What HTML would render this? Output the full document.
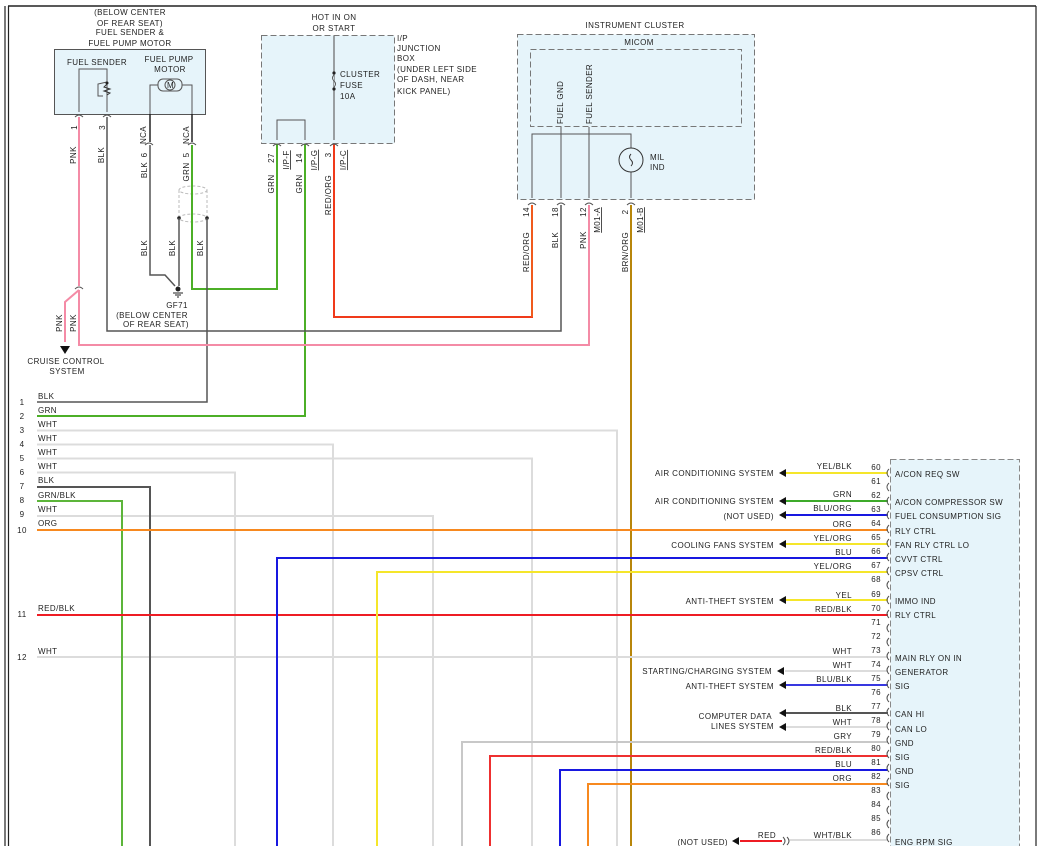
<!DOCTYPE html>
<html><head><meta charset="utf-8"><style>
html,body{margin:0;padding:0;background:#fff;}
svg{display:block;}
text{font-family:"Liberation Sans",sans-serif;font-size:8px;fill:#222;letter-spacing:0.4px;}
</style></head><body>
<svg width="1042" height="846" viewBox="0 0 1042 846" xmlns="http://www.w3.org/2000/svg">
<!-- borders -->
<line x1="8" y1="6" x2="1036" y2="6" stroke="#222" stroke-width="1.5"/>
<line x1="5" y1="6" x2="5" y2="846" stroke="#222" stroke-width="1.2"/>
<line x1="8.5" y1="6" x2="8.5" y2="846" stroke="#222" stroke-width="1.2"/>
<line x1="1036" y1="6" x2="1036" y2="846" stroke="#222" stroke-width="1.2"/>

<!-- Fuel sender box -->
<text x="130" y="15" text-anchor="middle">(BELOW CENTER</text>
<text x="130" y="26" text-anchor="middle">OF REAR SEAT)</text>
<text x="130" y="35" text-anchor="middle">FUEL SENDER &amp;</text>
<text x="130" y="46" text-anchor="middle">FUEL PUMP MOTOR</text>
<rect x="54.5" y="49.5" width="151" height="65" fill="#e6f4fa" stroke="#555"/>
<text x="97" y="65" text-anchor="middle">FUEL SENDER</text>
<text x="169" y="62" text-anchor="middle">FUEL PUMP</text>
<text x="170" y="72" text-anchor="middle">MOTOR</text>
<polyline points="79,112 79,69 107,69 107,112" fill="none" stroke="#555"/>
<polyline points="107,82 98,84 98,96 103,96" fill="none" stroke="#555"/>
<circle cx="107" cy="83" r="1.5" fill="#222"/>
<polyline points="107,84 104,87 110,89 104,91 110,93 107,95" fill="none" stroke="#333"/>
<rect x="158" y="79" width="24" height="12" rx="5" fill="#e6f4fa" stroke="#555"/>
<circle cx="170" cy="85" r="5" fill="#e6f4fa" stroke="#555"/>
<text x="167" y="88" font-size="6">M</text>
<polyline points="158,85 150,85 150,114" fill="none" stroke="#555"/>
<polyline points="182,85 192,85 192,114" fill="none" stroke="#555"/>
<g fill="none" stroke="#555">
<path d="M75,117 q4,-4 8,0 M103,117 q4,-4 8,0 M145,145 q4,-4 8,0 M188,145 q4,-4 8,0"/>
</g>
<line x1="150" y1="114" x2="150" y2="142" stroke="#222" stroke-width="1.5"/>
<line x1="192" y1="114" x2="192" y2="142" stroke="#222" stroke-width="1.5"/>
<g font-size="7.5">
<text transform="translate(77,125) rotate(-90)" text-anchor="end">1</text>
<text transform="translate(105,125) rotate(-90)" text-anchor="end">3</text>
<text transform="translate(146,135) rotate(-90)" text-anchor="middle">NCA</text>
<text transform="translate(189,135) rotate(-90)" text-anchor="middle">NCA</text>
<text transform="translate(147,155) rotate(-90)" text-anchor="middle">6</text>
<text transform="translate(189,155) rotate(-90)" text-anchor="middle">5</text>
<text transform="translate(76,155) rotate(-90)" text-anchor="middle">PNK</text>
<text transform="translate(104,155) rotate(-90)" text-anchor="middle">BLK</text>
<text transform="translate(147,170) rotate(-90)" text-anchor="middle">BLK</text>
<text transform="translate(189,172) rotate(-90)" text-anchor="middle">GRN</text>
<text transform="translate(147,248) rotate(-90)" text-anchor="middle">BLK</text>
<text transform="translate(175,248) rotate(-90)" text-anchor="middle">BLK</text>
<text transform="translate(203,248) rotate(-90)" text-anchor="middle">BLK</text>
<text transform="translate(62,323) rotate(-90)" text-anchor="middle">PNK</text>
<text transform="translate(76,323) rotate(-90)" text-anchor="middle">PNK</text>
</g>
<!-- shield -->
<ellipse cx="193" cy="190" rx="14" ry="4" fill="none" stroke="#bbb" stroke-dasharray="3,2"/>
<ellipse cx="193" cy="218" rx="14" ry="4" fill="none" stroke="#bbb" stroke-dasharray="3,2"/>
<line x1="179" y1="190" x2="179" y2="218" stroke="#bbb" stroke-dasharray="3,2"/>
<line x1="207" y1="190" x2="207" y2="218" stroke="#bbb" stroke-dasharray="3,2"/>
<circle cx="179" cy="218" r="1.8" fill="#222"/><circle cx="207" cy="218" r="1.8" fill="#222"/>
<!-- ground wires -->
<polyline points="150,145 150,275 165,275 175,286" fill="none" stroke="#555" stroke-width="1.5"/>
<line x1="179" y1="218" x2="179" y2="286" stroke="#555" stroke-width="1.5"/>
<circle cx="178" cy="289" r="2.5" fill="#222"/>
<path d="M173,293 h10 M175,295 h6 M177,297 h2" stroke="#222"/>
<text x="177" y="308" text-anchor="middle">GF71</text>
<text x="152" y="318" text-anchor="middle">(BELOW CENTER</text>
<text x="156" y="327" text-anchor="middle">OF REAR SEAT)</text>
<!-- wires -->
<polyline points="192,145 192,289 277,289 277,142" fill="none" stroke="#4caf27" stroke-width="2"/>
<polyline points="207,218 207,402 37,402" fill="none" stroke="#555" stroke-width="1.5"/>
<polyline points="305,142 305,416 37,416" fill="none" stroke="#4caf27" stroke-width="2"/>
<polyline points="107,117 107,331 561,331 561,205" fill="none" stroke="#555" stroke-width="1.5"/>
<polyline points="79,117 79,286" fill="none" stroke="#f48ba6" stroke-width="2"/>
<path d="M75,289 q4,-4 8,0" fill="none" stroke="#555"/>
<polyline points="79,290 65,302 65,342" fill="none" stroke="#f48ba6" stroke-width="2"/>
<polyline points="79,290 79,345 589,345 589,205" fill="none" stroke="#f48ba6" stroke-width="2"/>
<polygon points="60,346 70,346 65,354" fill="#111"/>
<text x="66" y="364" text-anchor="middle">CRUISE CONTROL</text>
<text x="67" y="374" text-anchor="middle">SYSTEM</text>
<polyline points="334,142 334,317 532,317 532,205" fill="none" stroke="#f03a1a" stroke-width="2"/>
<line x1="532" y1="205" x2="532" y2="317" stroke="#f07a20" stroke-width="1"/>

<!-- I/P junction box -->
<text x="334" y="20" text-anchor="middle">HOT IN ON</text>
<text x="334" y="31" text-anchor="middle">OR START</text>
<rect x="261.5" y="35.5" width="133" height="108" fill="#e6f4fa" stroke="#777" stroke-dasharray="6,3"/>
<text x="397" y="41">I/P</text><text x="397" y="51">JUNCTION</text><text x="397" y="61">BOX</text>
<text x="397" y="72">(UNDER LEFT SIDE</text><text x="397" y="82">OF DASH, NEAR</text><text x="397" y="94">KICK PANEL)</text>
<line x1="334" y1="36" x2="334" y2="140" stroke="#666" stroke-width="1.2"/>
<circle cx="334" cy="73" r="1.6" fill="#222"/><circle cx="334" cy="89" r="1.6" fill="#222"/>
<path d="M334,75 q-3,3 0,6 q3,3 0,6" fill="#e6f4fa" stroke="#555"/>
<text x="340" y="77">CLUSTER</text><text x="340" y="88">FUSE</text><text x="340" y="99">10A</text>
<polyline points="277,140 277,120 305,120 305,140" fill="none" stroke="#555"/>
<path d="M273,146 q4,-4 8,0 M301,146 q4,-4 8,0 M330,146 q4,-4 8,0" fill="none" stroke="#555"/>
<g font-size="7.5">
<text transform="translate(274,158) rotate(-90)" text-anchor="middle">27</text>
<text transform="translate(302,158) rotate(-90)" text-anchor="middle">14</text>
<text transform="translate(331,155) rotate(-90)" text-anchor="middle">3</text>
<text transform="translate(289,160) rotate(-90)" text-anchor="middle" text-decoration="underline">I/P-F</text>
<text transform="translate(317,160) rotate(-90)" text-anchor="middle" text-decoration="underline">I/P-G</text>
<text transform="translate(346,160) rotate(-90)" text-anchor="middle" text-decoration="underline">I/P-C</text>
<text transform="translate(274,184) rotate(-90)" text-anchor="middle">GRN</text>
<text transform="translate(302,184) rotate(-90)" text-anchor="middle">GRN</text>
<text transform="translate(331,195) rotate(-90)" text-anchor="middle">RED/ORG</text>
</g>

<!-- Instrument cluster -->
<text x="635" y="28" text-anchor="middle">INSTRUMENT CLUSTER</text>
<rect x="517.5" y="34.5" width="237" height="165" fill="#e6f4fa" stroke="#777" stroke-dasharray="6,3"/>
<text x="639" y="45" text-anchor="middle">MICOM</text>
<rect x="530.5" y="49.5" width="211" height="77" fill="#e6f4fa" stroke="#777" stroke-dasharray="6,3"/>
<g font-size="7.5">
<text transform="translate(563,124) rotate(-90)">FUEL GND</text>
<text transform="translate(592,124) rotate(-90)">FUEL SENDER</text>
</g>
<polyline points="532,198 532,134 631,134 631,198" fill="none" stroke="#555"/>
<line x1="561" y1="127" x2="561" y2="198" stroke="#555"/>
<line x1="589" y1="127" x2="589" y2="198" stroke="#555"/>
<circle cx="631" cy="160" r="12" fill="#e6f4fa" stroke="#333"/>
<path d="M631,154 q-3,3 0,6 q3,3 0,6" fill="none" stroke="#333"/>
<text x="650" y="160">MIL</text><text x="650" y="170">IND</text>
<path d="M528,205 q4,-4 8,0 M557,205 q4,-4 8,0 M585,205 q4,-4 8,0 M627,205 q4,-4 8,0" fill="none" stroke="#555"/>
<g font-size="7.5">
<text transform="translate(529,212) rotate(-90)" text-anchor="middle">14</text>
<text transform="translate(558,212) rotate(-90)" text-anchor="middle">18</text>
<text transform="translate(586,212) rotate(-90)" text-anchor="middle">12</text>
<text transform="translate(628,212) rotate(-90)" text-anchor="middle">2</text>
<text transform="translate(600,220) rotate(-90)" text-anchor="middle" text-decoration="underline">M01-A</text>
<text transform="translate(643,220) rotate(-90)" text-anchor="middle" text-decoration="underline">M01-B</text>
<text transform="translate(529,252) rotate(-90)" text-anchor="middle">RED/ORG</text>
<text transform="translate(558,240) rotate(-90)" text-anchor="middle">BLK</text>
<text transform="translate(586,240) rotate(-90)" text-anchor="middle">PNK</text>
<text transform="translate(628,252) rotate(-90)" text-anchor="middle">BRN/ORG</text>
</g>
<line x1="631" y1="205" x2="631" y2="846" stroke="#b8860b" stroke-width="2"/>

<!-- left pins -->
<g font-size="7.5">
<text x="22" y="405" text-anchor="middle">1</text><text x="22" y="419" text-anchor="middle">2</text>
<text x="22" y="433" text-anchor="middle">3</text><text x="22" y="447" text-anchor="middle">4</text>
<text x="22" y="461" text-anchor="middle">5</text><text x="22" y="475" text-anchor="middle">6</text>
<text x="22" y="489" text-anchor="middle">7</text><text x="22" y="503" text-anchor="middle">8</text>
<text x="22" y="517" text-anchor="middle">9</text><text x="22" y="533" text-anchor="middle">10</text>
<text x="22" y="617" text-anchor="middle">11</text><text x="22" y="660" text-anchor="middle">12</text>
</g>
<text x="38" y="399">BLK</text><text x="38" y="413">GRN</text><text x="38" y="427">WHT</text>
<text x="38" y="441">WHT</text><text x="38" y="455">WHT</text><text x="38" y="469">WHT</text>
<text x="38" y="483">BLK</text><text x="38" y="498">GRN/BLK</text><text x="38" y="512">WHT</text>
<text x="38" y="526">ORG</text><text x="38" y="611">RED/BLK</text><text x="38" y="654">WHT</text>

<g fill="none" stroke-width="2">
<polyline points="37,430.5 617,430.5 617,846" stroke="#dcdcdc"/>
<polyline points="37,444.5 333,444.5 333,846" stroke="#dcdcdc"/>
<polyline points="37,458.5 532,458.5 532,846" stroke="#dcdcdc"/>
<polyline points="37,472.5 235,472.5 235,846" stroke="#dcdcdc"/>
<polyline points="37,516 433,516 433,846" stroke="#dcdcdc"/>
<polyline points="37,657 888,657" stroke="#dcdcdc"/>
<polyline points="37,487 150,487 150,846" stroke="#555"/>
<polyline points="37,501 122,501 122,846" stroke="#5cb53a"/>
<polyline points="37,530 888,530" stroke="#f7891f"/>
<polyline points="37,615 888,615" stroke="#ee1c24"/>
<polyline points="277,846 277,558 888,558" stroke="#1818e0"/>
<polyline points="377,846 377,572 888,572" stroke="#f5e62a"/>
<polyline points="462,846 462,742 888,742" stroke="#c8c8c8"/>
<polyline points="490,846 490,756 888,756" stroke="#ee3030"/>
<polyline points="560,846 560,770 888,770" stroke="#1818e0"/>
<polyline points="588,846 588,784 888,784" stroke="#f7891f"/>
<line x1="785" y1="473" x2="888" y2="473" stroke="#f5e62a"/>
<line x1="785" y1="501" x2="888" y2="501" stroke="#3daa2a"/>
<line x1="785" y1="515" x2="888" y2="515" stroke="#1818e0"/>
<line x1="785" y1="544" x2="888" y2="544" stroke="#f5e62a"/>
<line x1="785" y1="600" x2="888" y2="600" stroke="#f5e62a"/>
<line x1="785" y1="671" x2="888" y2="671" stroke="#dcdcdc"/>
<line x1="785" y1="685" x2="888" y2="685" stroke="#3838e0"/>
<line x1="785" y1="713" x2="888" y2="713" stroke="#555"/>
<line x1="785" y1="727" x2="888" y2="727" stroke="#dcdcdc"/>
<line x1="790" y1="840" x2="888" y2="840" stroke="#dcdcdc"/>
<line x1="740" y1="841" x2="782" y2="841" stroke="#ee1c24"/>
</g>
<!-- arrows -->
<g fill="#111">
<polygon points="779,473 786,469 786,477"/><polygon points="779,501 786,497 786,505"/>
<polygon points="779,515 786,511 786,519"/><polygon points="779,544 786,540 786,548"/>
<polygon points="779,600 786,596 786,604"/><polygon points="777,671 784,667 784,675"/>
<polygon points="779,685 786,681 786,689"/><polygon points="779,713 786,709 786,717"/>
<polygon points="779,727 786,723 786,731"/><polygon points="732,841 739,837 739,845"/>
</g>
<path d="M783,837 q4,4 0,8 M787,837 q4,4 0,8" fill="none" stroke="#555"/>
<g text-anchor="end">
<text x="774" y="476">AIR CONDITIONING SYSTEM</text>
<text x="774" y="504">AIR CONDITIONING SYSTEM</text>
<text x="774" y="519">(NOT USED)</text>
<text x="774" y="548">COOLING FANS SYSTEM</text>
<text x="774" y="604">ANTI-THEFT SYSTEM</text>
<text x="772" y="674">STARTING/CHARGING SYSTEM</text>
<text x="774" y="689">ANTI-THEFT SYSTEM</text>
<text x="772" y="719">COMPUTER DATA</text>
<text x="774" y="729">LINES SYSTEM</text>
<text x="728" y="845">(NOT USED)</text>
<text x="776" y="838">RED</text>
<text x="852" y="469">YEL/BLK</text><text x="852" y="497">GRN</text><text x="852" y="511">BLU/ORG</text>
<text x="852" y="527">ORG</text><text x="852" y="541">YEL/ORG</text><text x="852" y="555">BLU</text>
<text x="852" y="569">YEL/ORG</text><text x="852" y="598">YEL</text><text x="852" y="612">RED/BLK</text>
<text x="852" y="654">WHT</text><text x="852" y="668">WHT</text><text x="852" y="682">BLU/BLK</text>
<text x="852" y="711">BLK</text><text x="852" y="725">WHT</text><text x="852" y="739">GRY</text>
<text x="852" y="753">RED/BLK</text><text x="852" y="767">BLU</text><text x="852" y="781">ORG</text>
<text x="852" y="838">WHT/BLK</text>
</g>
<!-- right connector -->
<rect x="890.5" y="459.5" width="129" height="400" fill="#e6f4fa" stroke="#888" stroke-dasharray="6,3"/>
<g font-size="7.5" text-anchor="end">
<text x="881" y="470">60</text><text x="881" y="484">61</text><text x="881" y="498">62</text><text x="881" y="512">63</text>
<text x="881" y="526">64</text><text x="881" y="540">65</text><text x="881" y="554">66</text><text x="881" y="568">67</text>
<text x="881" y="582">68</text><text x="881" y="597">69</text><text x="881" y="611">70</text><text x="881" y="625">71</text>
<text x="881" y="639">72</text><text x="881" y="653">73</text><text x="881" y="667">74</text><text x="881" y="681">75</text>
<text x="881" y="695">76</text><text x="881" y="709">77</text><text x="881" y="723">78</text><text x="881" y="737">79</text>
<text x="881" y="751">80</text><text x="881" y="765">81</text><text x="881" y="779">82</text><text x="881" y="793">83</text>
<text x="881" y="807">84</text><text x="881" y="821">85</text><text x="881" y="835">86</text>
</g>
<g fill="none" stroke="#555">
<path d="M889,469 q-4,4 0,8 M889,483 q-4,4 0,8 M889,497 q-4,4 0,8 M889,511 q-4,4 0,8 M889,525 q-4,4 0,8 M889,539 q-4,4 0,8 M889,553 q-4,4 0,8 M889,567 q-4,4 0,8 M889,581 q-4,4 0,8 M889,596 q-4,4 0,8 M889,610 q-4,4 0,8 M889,624 q-4,4 0,8 M889,638 q-4,4 0,8 M889,652 q-4,4 0,8 M889,666 q-4,4 0,8 M889,680 q-4,4 0,8 M889,694 q-4,4 0,8 M889,708 q-4,4 0,8 M889,722 q-4,4 0,8 M889,736 q-4,4 0,8 M889,750 q-4,4 0,8 M889,764 q-4,4 0,8 M889,778 q-4,4 0,8 M889,792 q-4,4 0,8 M889,806 q-4,4 0,8 M889,820 q-4,4 0,8 M889,834 q-4,4 0,8"/>
</g>
<text x="895" y="477">A/CON REQ SW</text>
<text x="895" y="505">A/CON COMPRESSOR SW</text>
<text x="895" y="519">FUEL CONSUMPTION SIG</text>
<text x="895" y="534">RLY CTRL</text>
<text x="895" y="548">FAN RLY CTRL LO</text>
<text x="895" y="562">CVVT CTRL</text>
<text x="895" y="576">CPSV CTRL</text>
<text x="895" y="604">IMMO IND</text>
<text x="895" y="618">RLY CTRL</text>
<text x="895" y="661">MAIN RLY ON IN</text>
<text x="895" y="675">GENERATOR</text>
<text x="895" y="689">SIG</text>
<text x="895" y="717">CAN HI</text>
<text x="895" y="732">CAN LO</text>
<text x="895" y="746">GND</text>
<text x="895" y="760">SIG</text>
<text x="895" y="774">GND</text>
<text x="895" y="788">SIG</text>
<text x="895" y="845">ENG RPM SIG</text>
</svg>
</body></html>
